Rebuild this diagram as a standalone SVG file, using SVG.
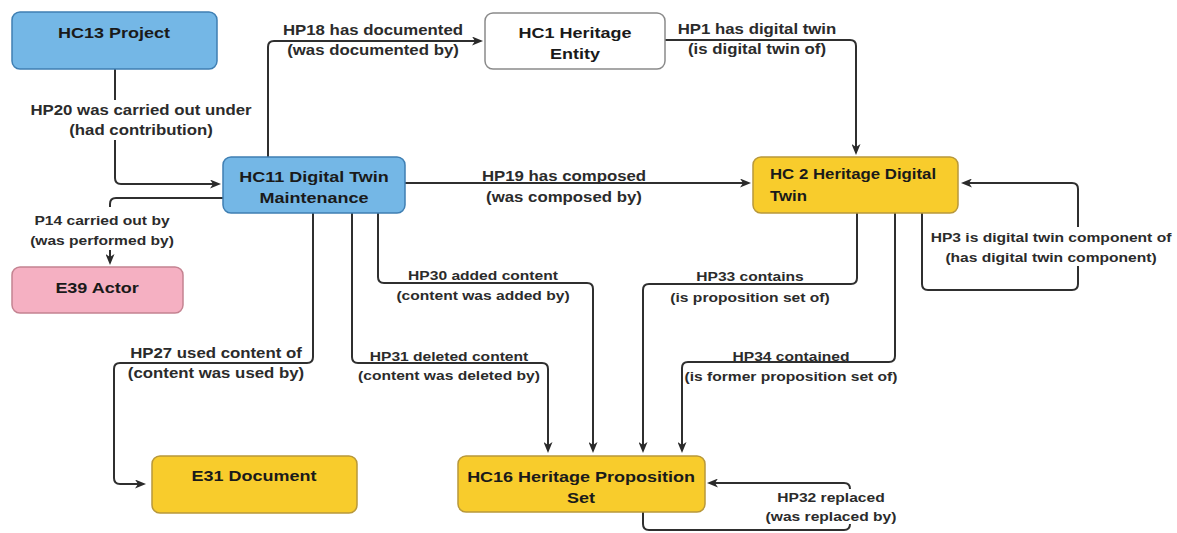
<svg xmlns="http://www.w3.org/2000/svg" width="1177" height="533" viewBox="0 0 1177 533">
  <defs>
    <marker id="arrow" viewBox="0 0 11 9" markerWidth="11" markerHeight="9" refX="3" refY="4.5" orient="auto" markerUnits="userSpaceOnUse">
      <path d="M0,0 L11,4.5 L0,9 L3,4.5 Z" fill="#2a2a2a"/>
    </marker>
    <style>
      .box { stroke-width: 1.5; }
      .blue { fill: #74b7e6; stroke: #3f7fb3; }
      .yellow { fill: #f8cc2c; stroke: #b8983a; }
      .pink { fill: #f5b0c2; stroke: #c48391; }
      .white { fill: #ffffff; stroke: #8a8a8a; }
      .n { font-family: "Liberation Sans", Arial, sans-serif; font-weight: bold; font-size: 15px; fill: #1a1a1a; text-anchor: middle; }
      .l { font-family: "Liberation Sans", Arial, sans-serif; font-weight: bold; font-size: 14px; fill: #2b2b2b; text-anchor: middle; }
      .sm { font-size: 13px; }
      .edge { fill: none; stroke: #2f2f2f; stroke-width: 2; marker-end: url(#arrow); }
      .bg { fill: #ffffff; }
    </style>
  </defs>

  <rect width="1177" height="533" fill="#ffffff"/>

  <!-- connectors with their labels -->
  <g id="connectors">
    <g id="hp20">
      <path class="edge" d="M115,69 V178 Q115,184 121,184 H213"/>
      <rect class="bg" x="30" y="100" width="222" height="40"/>
      <text class="l" transform="translate(141 115) scale(1.2 1)"><tspan x="0" y="0">HP20 was carried out under</tspan><tspan x="0" y="20">(had contribution)</tspan></text>
    </g>
    <g id="p14">
      <path class="edge" d="M223,198 H116 Q110,198 110,204 V257"/>
      <rect class="bg" x="28" y="207" width="148" height="43"/>
      <text class="l sm" transform="translate(102 225) scale(1.2 1)"><tspan x="0" y="0">P14 carried out by</tspan><tspan x="0" y="20">(was performed by)</tspan></text>
    </g>
    <g id="hp18">
      <path class="edge" d="M268,157 V47 Q268,41 274,41 H475"/>
      <text class="l" transform="translate(373 35) scale(1.2 1)"><tspan x="0" y="0">HP18 has documented</tspan><tspan x="0" y="20">(was documented by)</tspan></text>
    </g>
    <g id="hp1">
      <path class="edge" d="M665,40 H850 Q856,40 856,46 V147"/>
      <text class="l" transform="translate(757 34) scale(1.2 1)"><tspan x="0" y="0">HP1 has digital twin</tspan><tspan x="0" y="20">(is digital twin of)</tspan></text>
    </g>
    <g id="hp19">
      <path class="edge" d="M405,183 H743"/>
      <text class="l" transform="translate(564 181) scale(1.2 1)"><tspan x="0" y="0">HP19 has composed</tspan><tspan x="0" y="21">(was composed by)</tspan></text>
    </g>
    <g id="hp3">
      <path class="edge" d="M922,213 V284 Q922,290 928,290 H1072 Q1078,290 1078,284 V189 Q1078,183 1072,183 H969"/>
      <rect class="bg" x="926" y="227" width="250" height="39"/>
      <text class="l sm" transform="translate(1051 242) scale(1.2 1)"><tspan x="0" y="0">HP3 is digital twin component of</tspan><tspan x="0" y="20">(has digital twin component)</tspan></text>
    </g>
    <g id="hp33">
      <path class="edge" d="M857,213 V278 Q857,284 851,284 H649 Q643,284 643,290 V445"/>
      <text class="l sm" transform="translate(750 281) scale(1.2 1)"><tspan x="0" y="0">HP33 contains</tspan><tspan x="0" y="21">(is proposition set of)</tspan></text>
    </g>
    <g id="hp34">
      <path class="edge" d="M895,213 V356 Q895,362 889,362 H688 Q682,362 682,368 V445"/>
      <text class="l sm" transform="translate(791 361) scale(1.2 1)"><tspan x="0" y="0">HP34 contained</tspan><tspan x="0" y="20">(is former proposition set of)</tspan></text>
    </g>
    <g id="hp30">
      <path class="edge" d="M378,213 V277 Q378,283 384,283 H587 Q593,283 593,289 V445"/>
      <text class="l sm" transform="translate(483 280) scale(1.2 1)"><tspan x="0" y="0">HP30 added content</tspan><tspan x="0" y="20">(content was added by)</tspan></text>
    </g>
    <g id="hp31">
      <path class="edge" d="M352,213 V357 Q352,363 358,363 H542 Q548,363 548,369 V445"/>
      <text class="l sm" transform="translate(449 361) scale(1.2 1)"><tspan x="0" y="0">HP31 deleted content</tspan><tspan x="0" y="19">(content was deleted by)</tspan></text>
    </g>
    <g id="hp27">
      <path class="edge" d="M313,213 V357 Q313,363 307,363 H120 Q114,363 114,369 V478 Q114,484 120,484 H138"/>
      <text class="l" transform="translate(216 358) scale(1.2 1)"><tspan x="0" y="0">HP27 used content of</tspan><tspan x="0" y="20">(content was used by)</tspan></text>
    </g>
    <g id="hp32">
      <path class="edge" d="M643,512 V524 Q643,530 649,530 H844 Q850,530 850,524 V489 Q850,483 844,483 H715"/>
      <rect class="bg" x="760" y="489" width="140" height="35"/>
      <text class="l sm" transform="translate(831 502) scale(1.2 1)"><tspan x="0" y="0">HP32 replaced</tspan><tspan x="0" y="19">(was replaced by)</tspan></text>
    </g>
  </g>

  <!-- nodes -->
  <g id="hc13">
    <rect class="box blue" x="12" y="12" width="205" height="57" rx="8"/>
    <text class="n" transform="translate(114 38) scale(1.2 1)">HC13 Project</text>
  </g>
  <g id="hc1">
    <rect class="box white" x="485" y="13" width="180" height="56" rx="8"/>
    <text class="n" transform="translate(575 38) scale(1.2 1)"><tspan x="0" y="0">HC1 Heritage</tspan><tspan x="0" y="21">Entity</tspan></text>
  </g>
  <g id="hc11">
    <rect class="box blue" x="223" y="157" width="182" height="56" rx="8"/>
    <text class="n" transform="translate(314 182) scale(1.2 1)"><tspan x="0" y="0">HC11 Digital Twin</tspan><tspan x="0" y="21">Maintenance</tspan></text>
  </g>
  <g id="hc2">
    <rect class="box yellow" x="753" y="157" width="205" height="56" rx="8"/>
    <text class="n" style="text-anchor:start;font-size:14px" transform="translate(770 179) scale(1.2 1)"><tspan x="0" y="0">HC 2 Heritage Digital</tspan><tspan x="0" y="22">Twin</tspan></text>
  </g>
  <g id="e39">
    <rect class="box pink" x="12" y="267" width="171" height="46" rx="8"/>
    <text class="n" transform="translate(97 293) scale(1.2 1)">E39 Actor</text>
  </g>
  <g id="e31">
    <rect class="box yellow" x="152" y="456" width="205" height="57" rx="8"/>
    <text class="n" transform="translate(254 481) scale(1.2 1)">E31 Document</text>
  </g>
  <g id="hc16">
    <rect class="box yellow" x="458" y="456" width="247" height="56" rx="8"/>
    <text class="n" transform="translate(581 482) scale(1.2 1)"><tspan x="0" y="0">HC16 Heritage Proposition</tspan><tspan x="0" y="21">Set</tspan></text>
  </g>
</svg>
